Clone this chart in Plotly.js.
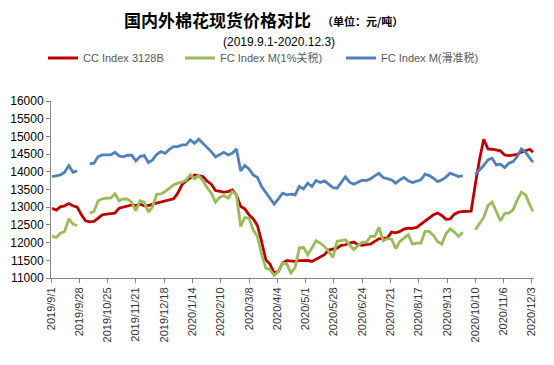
<!DOCTYPE html>
<html>
<head>
<meta charset="utf-8">
<script src="https://cdn.plot.ly/plotly-3.0.1.min.js"></script>
<style>html,body{margin:0;padding:0;background:#fff;}#chart{width:554px;height:365px;}</style>
</head>
<body>
<div id="chart"></div>
<script>
const dates = [
"2019-09-02","2019-09-06","2019-09-10","2019-09-14","2019-09-18","2019-09-22","2019-09-26","2019-09-30",
"2019-10-04","2019-10-08","2019-10-12","2019-10-16","2019-10-20","2019-10-24","2019-10-28","2019-11-01",
"2019-11-05","2019-11-09","2019-11-13","2019-11-17","2019-11-21","2019-11-25","2019-11-29","2019-12-03",
"2019-12-07","2019-12-11","2019-12-15","2019-12-19","2019-12-23","2019-12-27","2019-12-31","2020-01-04",
"2020-01-08","2020-01-12","2020-01-16","2020-01-20","2020-01-24","2020-01-28","2020-02-01","2020-02-05",
"2020-02-09","2020-02-13","2020-02-17","2020-02-21","2020-02-25","2020-02-29","2020-03-04","2020-03-08",
"2020-03-12","2020-03-16","2020-03-20","2020-03-24","2020-03-28","2020-04-01","2020-04-05","2020-04-09",
"2020-04-13","2020-04-17","2020-04-21","2020-04-25","2020-04-29","2020-05-03","2020-05-07","2020-05-11",
"2020-05-15","2020-05-19","2020-05-23","2020-05-27","2020-05-31","2020-06-04","2020-06-08","2020-06-12",
"2020-06-16","2020-06-20","2020-06-24","2020-06-28","2020-07-02","2020-07-06","2020-07-10","2020-07-14",
"2020-07-18","2020-07-22","2020-07-26","2020-07-30","2020-08-03","2020-08-07","2020-08-11","2020-08-15",
"2020-08-19","2020-08-23","2020-08-27","2020-08-31","2020-09-04","2020-09-08","2020-09-12","2020-09-16",
"2020-09-20","2020-09-24","2020-09-28","2020-10-02","2020-10-06","2020-10-10","2020-10-14","2020-10-18",
"2020-10-22","2020-10-26","2020-10-30","2020-11-03","2020-11-07","2020-11-11","2020-11-15","2020-11-19",
"2020-11-23","2020-11-27","2020-12-01","2020-12-04"
];

const ccIndex = [
12973,12917,13010,13039,13105,13039,13001,12785,
12616,12588,12597,12691,12785,12804,12813,12832,
12973,13010,13039,13067,13048,13086,13039,13048,
13086,13114,13142,13161,13199,13236,13396,13631,
13744,13838,13913,13894,13866,13735,13650,13471,
13443,13424,13443,13490,13349,13020,12954,12785,
12672,12484,12033,11516,11394,11140,11187,11422,
11490,11469,11469,11488,11497,11497,11469,11535,
11582,11657,11789,11826,11845,11920,11939,11986,
12014,11939,11920,11950,11958,12033,12108,12127,
12127,12296,12277,12315,12381,12409,12400,12428,
12522,12597,12691,12785,12832,12766,12660,12672,
12804,12860,12879,12879,12890,13650,14350,14920,
14646,14637,14618,14590,14477,14458,14468,14496,
14552,14590,14637,14552
];

const fcM1pct = [
12174,12146,12268,12315,12672,12522,12484,null,
null,12832,12879,13180,13236,13255,13255,13377,
13180,13236,13227,13142,12898,13180,13142,12860,
13020,13368,13377,13443,13537,13631,13678,13706,
13772,13913,13800,13894,13744,13550,13400,13142,
13274,13330,13255,13443,13349,12456,12710,12691,
12362,12174,11676,11281,11234,11074,11187,11422,
11400,11140,11300,11845,11864,11657,11845,12052,
11986,11892,11751,11582,12033,12052,12080,11939,
11798,11920,12014,12010,12174,12174,12428,12052,
12108,12108,11826,12033,12127,12221,11958,11986,
11986,12315,12315,12202,12033,11958,12250,12390,
12296,12174,12296,null,null,12362,12550,12710,
13048,13142,12879,12616,12823,12832,12926,13208,
13424,13349,13067,12879
];

const fcMSliding = [
13866,13885,13913,13988,14176,13988,14026,null,
null,14223,14242,14430,14477,14477,14477,14552,
14449,14421,14468,14468,14308,14430,14458,14261,
14336,14496,14571,14524,14637,14712,14712,14759,
14759,14900,14806,14919,14806,14680,14571,14421,
14477,14552,14477,14524,14646,14026,14176,14082,
13913,13838,13584,13415,13274,13086,13236,13396,
13349,13368,13349,13584,13518,13678,13584,13753,
13697,13744,13650,13556,13537,13706,13856,13706,
13650,13706,13763,13750,13800,13885,13960,13838,
13800,13772,13678,13772,13838,13744,13697,13725,
13772,13932,13894,13819,13725,13772,13850,13960,
13913,13866,13894,null,null,13932,14054,14176,
14336,14383,14195,14214,14120,14242,14289,14430,
14646,14552,14383,14270
];

const seriesNames = ["CC Index 3128B", "FC Index M(1%关税)", "FC Index M(滑准税)"];
const seriesColors = ["#C00000", "#9BBB59", "#4F81BD"];
const tickDates = ["2019-09-01","2019-09-28","2019-10-25","2019-11-21","2019-12-18","2020-01-14","2020-02-10",
"2020-03-08","2020-04-04","2020-05-01","2020-05-28","2020-06-24","2020-07-21","2020-08-17","2020-09-13",
"2020-10-10","2020-11-06","2020-12-03"];
const tickLabels = ["2019/9/1","2019/9/28","2019/10/25","2019/11/21","2019/12/18","2020/1/14","2020/2/10",
"2020/3/8","2020/4/4","2020/5/1","2020/5/28","2020/6/24","2020/7/21","2020/8/17","2020/9/13",
"2020/10/10","2020/11/6","2020/12/3"];

const seriesData = [ccIndex, fcM1pct, fcMSliding];
const legendWidths = [92, 116, 110];
const traces = seriesData.map((ys, i) => ({
  type: "scatter", mode: "lines", x: dates, y: ys, name: seriesNames[i],
  line: {color: seriesColors[i], width: 2.8}, connectgaps: false,
  legendwidth: legendWidths[i]
}));

const W = 483, H = 177;
const px = x => (x - 51) / W;
const py = y => (278 - y) / H;

const layout = {
  width: 554, height: 365,
  margin: {l: 51, r: 20, t: 101, b: 87, pad: 0},
  paper_bgcolor: "#fff", plot_bgcolor: "#fff",
  font: {family: "Liberation Sans, Arial, sans-serif", size: 11, color: "#000"},
  showlegend: true,
  legend: {orientation: "h", x: px(43), xanchor: "left", y: py(58), yanchor: "middle",
    font: {size: 11, color: "#595959", family: "Liberation Sans, Noto Sans CJK SC, sans-serif"},
    itemwidth: 30, bgcolor: "rgba(0,0,0,0)", tracegroupgap: 0, entrywidthmode: "pixels"},
  xaxis: {type: "date", range: ["2019-09-01", "2020-12-05"], tickmode: "array", tickvals: tickDates, ticktext: tickLabels,
    tickangle: -90, ticks: "outside", ticklen: 4, tickcolor: "#868686", showline: true, linecolor: "#868686",
    linewidth: 1, showgrid: false, zeroline: false, fixedrange: true,
    tickfont: {size: 11, color: "#333", family: "Liberation Sans, Arial, sans-serif"}},
  yaxis: {range: [11000, 16000], dtick: 500, tick0: 11000, tickformat: "d", ticks: "outside", ticklen: 4,
    tickcolor: "#868686", showline: true, linecolor: "#868686", linewidth: 1, showgrid: false, zeroline: false,
    tickfont: {size: 12, color: "#000", family: "Liberation Sans, Arial, sans-serif"}},
  annotations: [
    {text: "<b>国内外棉花现货价格对比</b>", xref: "paper", yref: "paper", x: px(217), y: py(19), xanchor: "center", yanchor: "middle",
     showarrow: false, font: {size: 17, color: "#000", family: "Noto Sans CJK SC, sans-serif"}},
    {text: "<b>（单位：元/吨）</b>", xref: "paper", yref: "paper", x: px(362), y: py(21), xanchor: "center", yanchor: "middle",
     showarrow: false, font: {size: 11, color: "#000", family: "Noto Sans CJK SC, sans-serif"}},
    {text: "(2019.9.1-2020.12.3)", xref: "paper", yref: "paper", x: px(279), y: py(42), xanchor: "center", yanchor: "middle",
     showarrow: false, font: {size: 12, color: "#000", family: "Liberation Sans, Arial, sans-serif"}}
  ]
};

Plotly.newPlot("chart", traces, layout, {staticPlot: true, displayModeBar: false});
</script>
</body>
</html>
